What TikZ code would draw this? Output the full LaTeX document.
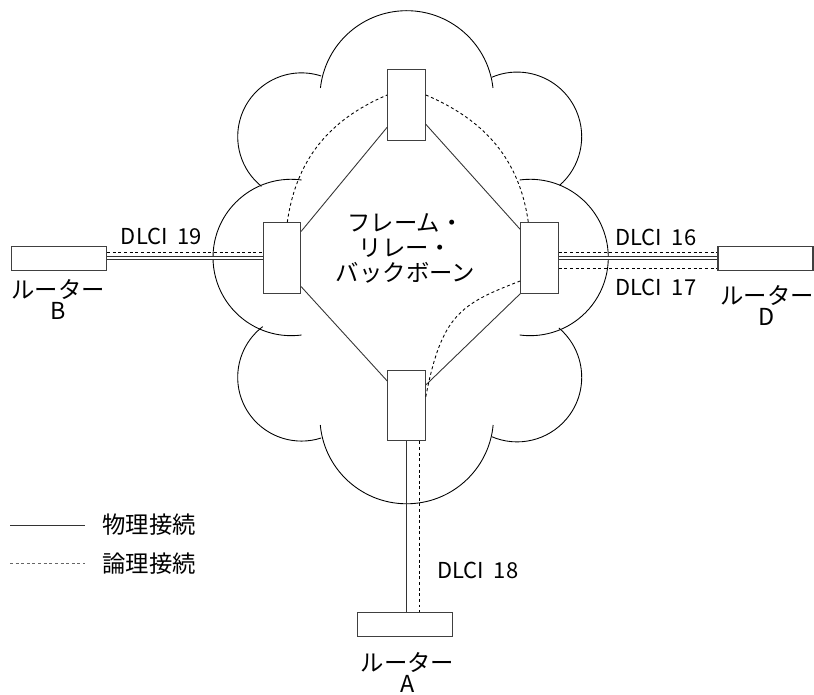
\documentclass[tikz,border=0pt]{standalone}
\usepackage{fontspec}
\setmainfont{Noto Sans CJK JP}
\usetikzlibrary{positioning, calc}

\begin{document}
\begin{tikzpicture}[
    x=0.02cm, y=0.02cm,
    switch/.style={rectangle, draw=black!75, fill=white, line width=0.6pt, minimum width=0.75cm, minimum height=1.41cm, inner sep=0pt},
    router/.style={rectangle, draw=black!75, fill=white, line width=0.6pt, minimum width=1.9cm, minimum height=0.49cm, inner sep=0pt},
    txt/.style={inner sep=0pt, align=center, font=\fontsize{13.3pt}{12pt}\selectfont},
    dlci/.style={inner sep=0pt, font=\fontsize{12.5pt}{14pt}\selectfont},
    cloud/.style={draw, line width=0.5pt},
    phys/.style={draw=black!80, line width=0.5pt},
    physd/.style={draw=black!80, line width=0.5pt, double, double distance=1.2pt},
    logic/.style={draw, line width=0.5pt, dash pattern=on 1.7pt off 1.5pt}
]

\useasboundingbox (0,0) rectangle (814,695);

% Cloud
\draw[cloud] ([shift={(6.3:86.8)}]406.7,597.5) arc[start angle=6.3, end angle=173.7, radius=86.8];
\draw[cloud] ([shift={(72.2:63.8)}]301.5,558.3) arc[start angle=72.2, end angle=231.1, radius=63.8];
\draw[cloud] ([shift={(113.2:64.6)}]517.1,558.3) arc[start angle=113.2, end angle=-48.9, radius=64.6];
\draw[cloud] ([shift={(82.3:78.2)}]291.2,437.5) arc[start angle=82.3, end angle=277.7, radius=78.2];
\draw[cloud] ([shift={(97.7:78.2)}]530.1,437.5) arc[start angle=97.7, end angle=-97.7, radius=78.2];
\draw[cloud] ([shift={(127.4:63.8)}]301.5,317.7) arc[start angle=127.4, end angle=287.9, radius=63.8];
\draw[cloud] ([shift={(49.8:64.6)}]517.1,317.7) arc[start angle=49.8, end angle=-113.2, radius=64.6];
\draw[cloud] ([shift={(185.3:86.8)}]406.7,278) arc[start angle=185.3, end angle=354.7, radius=86.8];

% Switches
\node[switch] (swT) at (406.5,590) {};
\node[switch] (swL) at (281.8,437) {};
\node[switch] (swR) at (539.5,437) {};
\node[switch] (swB) at (406.5,289.3) {};

% Routers
\node[router] (rB) at (59.2,436.5) {};
\node[router] (rD) at (765.5,436.5) {};
\node[router] (rA) at (405,70.5) {};

% Physical links
\draw[phys] (swL.54) -- (swT.229);
\draw[phys] (swT.-45) -- (swR.124);
\draw[phys] (swL.304) -- (swB.128);
\draw[phys] (swR.south west) -- (swB.47);
\draw[physd] (swL.west) -- (swL.west -| rB.east);
\draw[physd] (swR.east) -- (swR.east -| rD.west);
\draw[phys] (swB.south) -- (swB.south |- rA.north);

% Logical links
\draw[logic] ($(swL.north)+(5.5,0)$) to[out=82, in=203] ($(swT.west)+(0,10)$);
\draw[logic] ($(swT.east)+(0,10)$) to[out=-23, in=98] ($(swR.north)+(-11.2,0)$);
\draw[logic] ($(swR.west)+(0,-23)$) .. controls +(201:64.4) and +(79:83.1) .. ($(swB.east)+(0,9)$);
\draw[logic] ($(rB.east)+(0,5.8)$) -- ($(rB.east -| swL.west)+(0,5.8)$);
\draw[logic] ($(swR.east)+(0,5.3)$) -- ($(swR.east -| rD.west)+(0,5.3)$);
\draw[logic] ($(swR.east)+(0,-10.3)$) -- ($(swR.east -| rD.west)+(0,-10.3)$);
\draw[logic] ($(swB.south)+(12.5,0)$) -- ($(swB.south |- rA.north)+(12.5,0)$);

% Labels
\node[txt, font=\fontsize{13.3pt}{14.2pt}\selectfont] (backbone) at (405.5,447) {フレーム・\\リレー・\\バックボーン};
\node[txt] (lblB) at (58,395.5) {ルーター\\B};
\node[txt] (lblD) at (767,389.5) {ルーター\\D};
\node[txt] (lblA) at (407.5,22.5) {ルーター\\A};
\node[dlci] (dlci19) at (161.5,459) {DLCI~~19};
\node[dlci] (dlci16) at (655.8,457.7) {DLCI~~16};
\node[dlci] (dlci17) at (655.8,407.7) {DLCI~~17};
\node[dlci] (dlci18) at (477.8,124.3) {DLCI~~18};

% Legend
\coordinate (physA) at (10,170);
\coordinate (physB) at (85,170);
\draw[phys] (physA) -- (physB);
\node[txt, right=0.34cm of physB] (physlbl) {物理接続};
\coordinate (logA) at (10,131.5);
\coordinate (logB) at (85,131.5);
\draw[logic, draw=black!60] (logA) -- (logB);
\node[txt, right=0.34cm of logB] (loglbl) {論理接続};

\end{tikzpicture}
\end{document}
